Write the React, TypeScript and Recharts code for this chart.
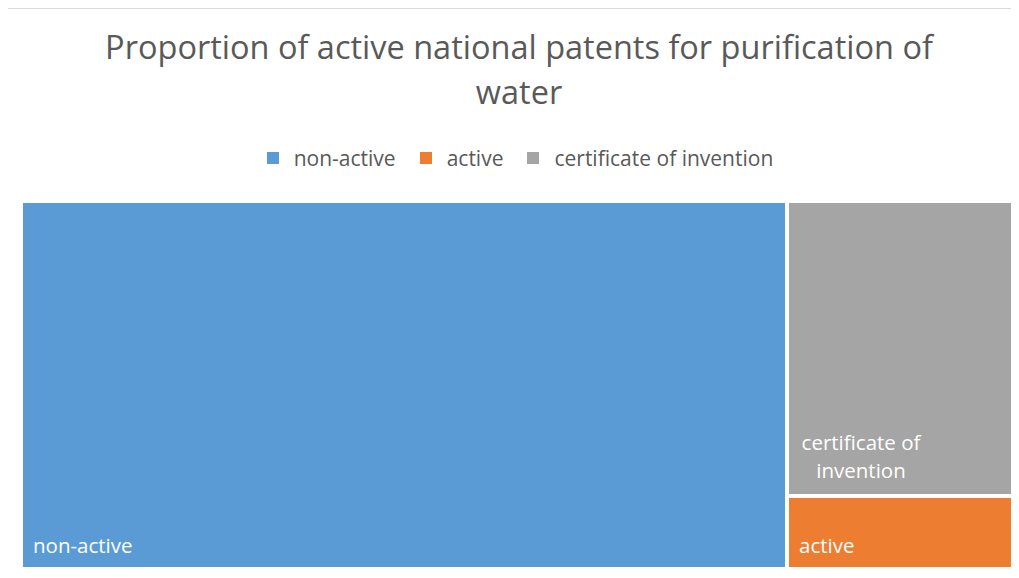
import React from "react";
import { Treemap } from "recharts";

const categories = ["non-active", "certificate of invention", "active"];
const values = [771, 183, 46];
const colors = ["#5B9BD5", "#A5A5A5", "#ED7D31"];
const labelLines = [["non-active"], ["certificate of", "invention"], ["active"]];
const legendOrder = ["non-active", "active", "certificate of invention"];
const titleLines = ["Proportion of active national patents for purification of", "water"];

const data = categories.map((name, i) => ({
  name,
  value: values[i],
  fill: colors[i],
  lines: labelLines[i],
}));

const FONT = "'Open Sans', sans-serif";

const Cell = (props: any) => {
  const { x, y, width, height, depth, fill, lines } = props;
  if (depth !== 1) return null;
  const multi = lines && lines.length > 1;
  const lineH = 28;
  const bottom = y + height - 16;
  return (
    <g>
      <rect x={x} y={y} width={width} height={height} fill={fill} stroke="#fff" strokeWidth={4} />
      {lines &&
        lines.map((t: string, i: number) => (
          <text
            key={i}
            x={multi ? x + 74 : x + 12}
            y={bottom - (lines.length - 1 - i) * lineH - (multi ? 2 : 0)}
            textAnchor={multi ? "middle" : "start"}
            fill="#fff"
            fontSize={20.5}
            fontFamily={FONT}
          >
            {t}
          </text>
        ))}
    </g>
  );
};

export default function App() {
  return (
    <div style={{ position: "relative", width: 1011, height: 570, fontFamily: FONT }}>
      <div style={{ position: "absolute", left: -1, top: 0, width: 1, height: 570, background: "#d9d9d9" }} />
      <div style={{ position: "absolute", left: -1, top: 0, width: 1012, height: 1, background: "#d9d9d9" }} />
      <svg style={{ position: "absolute", left: 0, top: 0 }} width={1011} height={130}>
        {titleLines.map((t, i) => (
          <text key={i} x={511} y={51 + i * 45} textAnchor="middle" fill="#595959" fontSize={32.5} fontFamily={FONT}>
            {t}
          </text>
        ))}
      </svg>
      <div
        style={{
          position: "absolute",
          left: 0,
          top: 137,
          width: 1024,
          display: "flex",
          justifyContent: "center",
          alignItems: "center",
          gap: 24,
          fontSize: 21,
          color: "#595959",
          lineHeight: "26px",
        }}
      >
        {legendOrder.map((n) => (
          <div key={n} style={{ display: "flex", alignItems: "center", gap: 15 }}>
            <div style={{ width: 12, height: 12, background: colors[categories.indexOf(n)] }} />
            <span>{n}</span>
          </div>
        ))}
      </div>
      <div style={{ position: "absolute", left: 13, top: 193 }}>
        <Treemap
          width={993}
          height={368}
          data={data}
          dataKey="value"
          nameKey="name"
          isAnimationActive={false}
          content={<Cell />}
        />
      </div>
    </div>
  );
}
